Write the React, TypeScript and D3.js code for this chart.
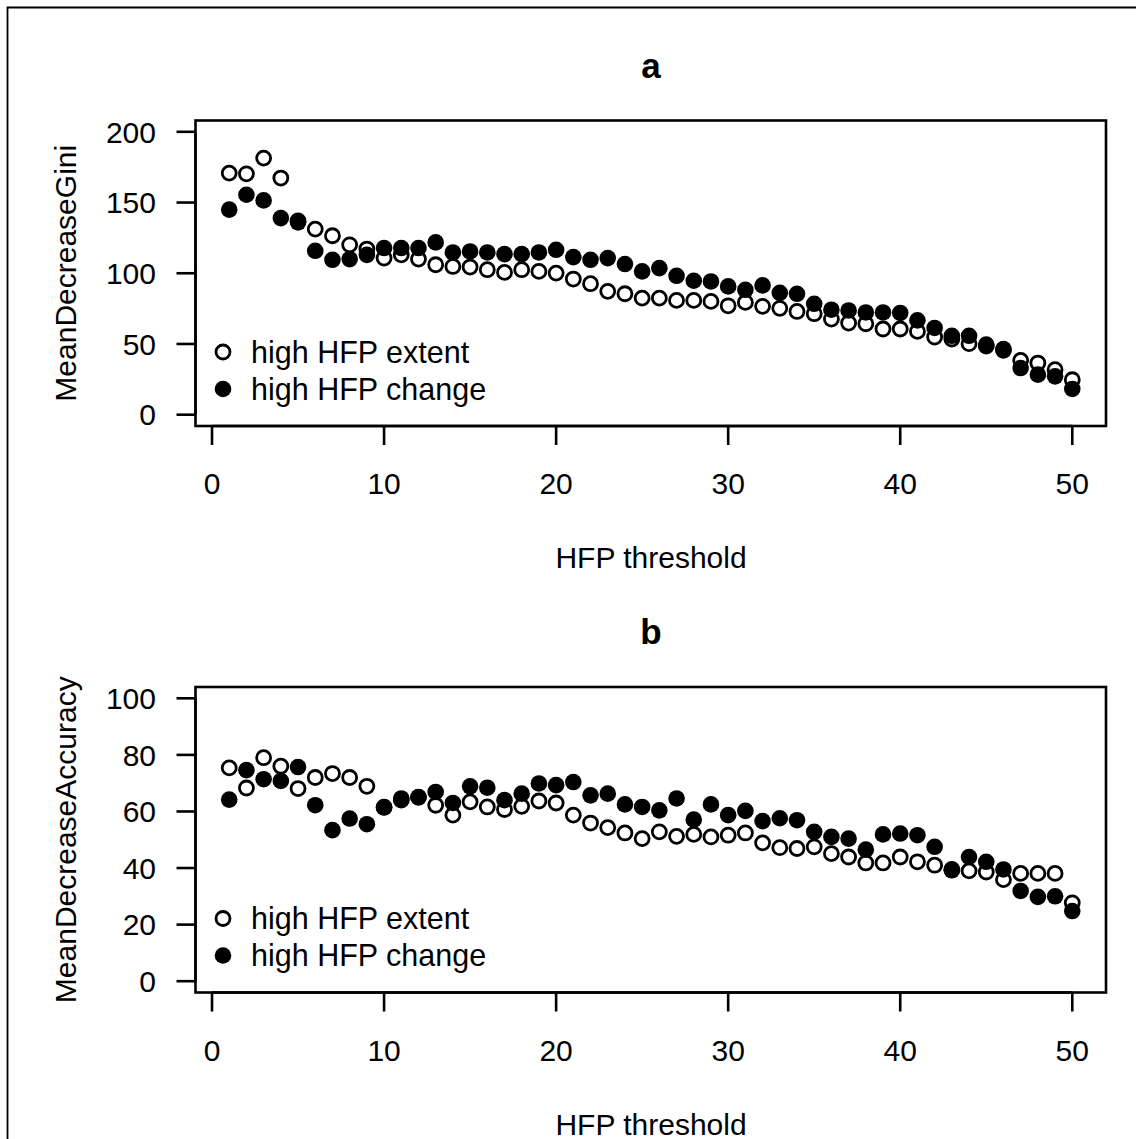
import React from "react";
import * as d3 from "d3";

const thresholds = d3.range(1, 51);

const giniExtent = [170.8, 170.3, 181.4, 167.3, 137, 131.2, 126.5, 120.1, 117.1, 110.7,
  113, 110, 106, 104.8, 104.4, 102.5, 100.6, 102.5, 101.3, 100.1,
  95.9, 92.6, 87.2, 85.5, 82.4, 82.4, 80.8, 80.8, 80.1, 77,
  79.4, 76.6, 75.2, 73, 71.4, 67.6, 64.8, 64.3, 60.6, 60.6,
  58.9, 54.9, 53.5, 50.2, 48.5, 45.5, 38.4, 36.5, 31.8, 24.7];
const giniChange = [145, 155.5, 151.5, 139, 136, 115.9, 109.5, 110, 113, 117.8,
  117.8, 117.8, 121.8, 114.7, 115.4, 114.7, 113.5, 113.5, 114.7, 116.6,
  111.4, 109.5, 110.7, 106.5, 101.3, 103.6, 98.2, 94.7, 94.2, 90.7,
  88.3, 91.4, 86.2, 85.5, 78.4, 74.2, 73.7, 72.3, 72.3, 71.9,
  66.7, 61.3, 55.8, 55.8, 49.5, 46.4, 33, 28.3, 27.1, 18.2];

const accExtent = [75.4, 68.3, 79, 76, 68.1, 72, 73.4, 72, 68.9, 61.5,
  64, 65, 62.2, 58.7, 63.4, 61.6, 60.7, 61.8, 63.7, 63,
  58.7, 55.9, 54.3, 52.4, 50.4, 52.8, 51.2, 51.9, 51, 51.6,
  52.4, 48.9, 47.2, 46.9, 47.5, 45.1, 43.9, 41.8, 41.8, 43.9,
  42.2, 41, 39.5, 39, 38.6, 35.9, 38.1, 38.1, 38.1, 27.7];
const accChange = [64.2, 74.6, 71.4, 70.8, 75.7, 62.2, 53.4, 57.5, 55.5, 61.4,
  64.6, 65.1, 66.9, 63, 68.9, 68.4, 64, 66.3, 69.9, 69.3,
  70.4, 65.7, 66.3, 62.5, 61.6, 60.4, 64.6, 57.1, 62.5, 58.7,
  60.2, 56.6, 57.6, 56.9, 52.8, 51, 50.4, 46.5, 51.9, 52.2,
  51.6, 47.5, 39.2, 43.9, 42.2, 39.5, 31.9, 29.8, 30, 24.8];

const xTicks = [0, 10, 20, 30, 40, 50];
const giniTicks = [0, 50, 100, 150, 200];
const accTicks = [0, 20, 40, 60, 80, 100];
const legendLabels = ["high HFP extent", "high HFP change"];

const FONT = "'Liberation Sans', Arial, Helvetica, sans-serif";
const OPEN_R = 7;
const OPEN_SW = 2.8;
const FILL_R = 8.3;

type PanelProps = {
  title: string;
  yLabel: string;
  extent: number[];
  change: number[];
  yTicks: number[];
  yMax: number;
  top: number;
  bottom: number;
};

function Panel({ title, yLabel, extent, change, yTicks, yMax, top, bottom }: PanelProps) {
  const left = 195.5;
  const right = 1106;
  const x = d3.scaleLinear().domain([1 - 0.04 * 49, 50 + 0.04 * 49]).range([left, right]);
  const pad = yMax * 0.04;
  const y = d3.scaleLinear().domain([-pad, yMax + pad]).range([bottom, top]);
  const tickLen = 19;
  const legX = 223;
  return (
    <g>
      <text x={651} y={top - 43} textAnchor="middle" fontFamily={FONT} fontWeight="bold" fontSize={35}>{title}</text>
      <rect x={left} y={top} width={right - left} height={bottom - top} fill="none" stroke="#000" strokeWidth={2.6} />
      <line x1={x(0)} x2={x(50)} y1={bottom} y2={bottom} stroke="#000" strokeWidth={2.6} />
      {xTicks.map((t) => (
        <g key={"x" + t}>
          <line x1={x(t)} x2={x(t)} y1={bottom} y2={bottom + tickLen} stroke="#000" strokeWidth={2.6} />
          <text x={x(t)} y={bottom + 68} textAnchor="middle" fontFamily={FONT} fontSize={30}>{t}</text>
        </g>
      ))}
      <text x={651} y={bottom + 142} textAnchor="middle" fontFamily={FONT} fontSize={30}>HFP threshold</text>
      <line x1={left} x2={left} y1={y(0)} y2={y(yMax)} stroke="#000" strokeWidth={2.6} />
      {yTicks.map((t) => (
        <g key={"y" + t}>
          <line x1={left - tickLen} x2={left} y1={y(t)} y2={y(t)} stroke="#000" strokeWidth={2.6} />
          <text x={156} y={y(t)} dy="0.36em" textAnchor="end" fontFamily={FONT} fontSize={30}>{t}</text>
        </g>
      ))}
      <text transform={`translate(76,${(top + bottom) / 2}) rotate(-90)`} textAnchor="middle" fontFamily={FONT} fontSize={30}>{yLabel}</text>
      {thresholds.map((t, i) => (
        <circle key={"e" + t} cx={x(t)} cy={y(extent[i])} r={OPEN_R} fill="#fff" stroke="#000" strokeWidth={OPEN_SW} />
      ))}
      {thresholds.map((t, i) => (
        <circle key={"c" + t} cx={x(t)} cy={y(change[i])} r={FILL_R} fill="#000" />
      ))}
      <circle cx={legX} cy={bottom - 74} r={OPEN_R} fill="#fff" stroke="#000" strokeWidth={OPEN_SW} />
      <text x={251} y={bottom - 74} dy="0.36em" fontFamily={FONT} fontSize={30.5}>{legendLabels[0]}</text>
      <circle cx={legX} cy={bottom - 37} r={FILL_R} fill="#000" />
      <text x={251} y={bottom - 37} dy="0.36em" fontFamily={FONT} fontSize={30.5}>{legendLabels[1]}</text>
    </g>
  );
}

export default function App() {
  return (
    <svg width={1136} height={1139} style={{ position: "absolute", left: 0, top: 0, background: "#fff" }}>
      <rect x={0} y={0} width={1136} height={1139} fill="#fff" />
      <path d="M7.5,1139 L7.5,7.5 L1136,7.5" fill="none" stroke="#000" strokeWidth={1.8} />
      <Panel title="a" yLabel="MeanDecreaseGini" extent={giniExtent} change={giniChange}
        yTicks={giniTicks} yMax={200} top={120.5} bottom={426} />
      <Panel title="b" yLabel="MeanDecreaseAccuracy" extent={accExtent} change={accChange}
        yTicks={accTicks} yMax={100} top={687} bottom={992.5} />
    </svg>
  );
}
